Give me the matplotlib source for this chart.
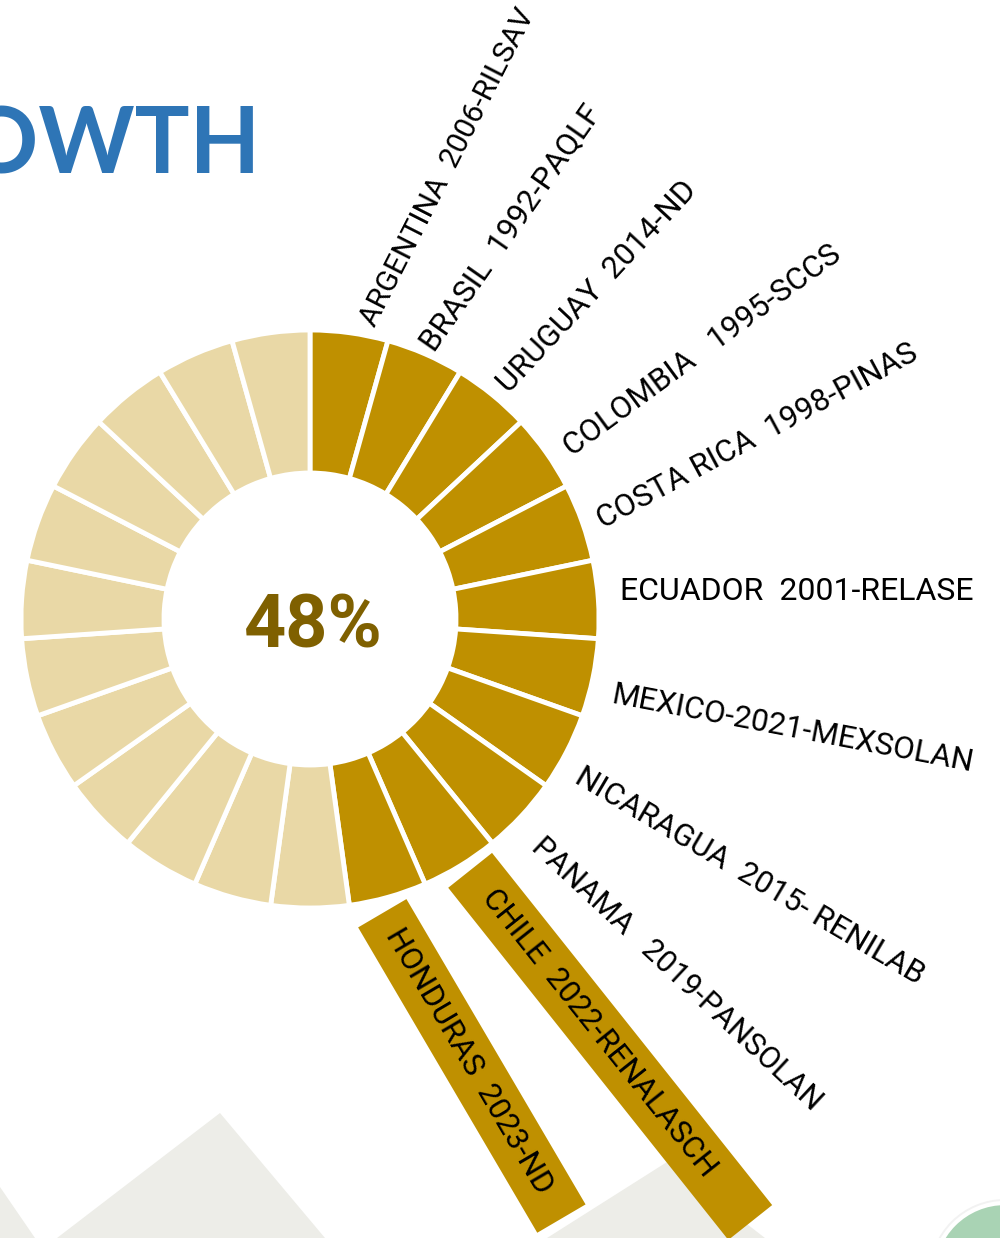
import numpy as np
import matplotlib.pyplot as plt
from matplotlib.patches import Polygon, Circle

# datos
n_segments = 23
n_done = 11
labels = [
    "ARGENTINA  2006-RILSAV",
    "BRASIL  1992-PAQLF",
    "URUGUAY  2014-ND",
    "COLOMBIA   1995-SCCS",
    "COSTA RICA  1998-PINAS",
    "ECUADOR  2001-RELASE",
    "MEXICO-2021-MEXSOLAN",
    "NICARAGUA  2015- RENILAB",
    "PANAMA   2019-PANSOLAN",
    "CHILE  2022-RENALASCH",
    "HONDURAS  2023-ND",
]
boxed = [False] * 9 + [True, True]

# estilo / posiciones de etiquetas (grados desde las 12 en sentido horario)
lab_ang = [11.2, 23.3, 39.8, 56.7, 71.3, 85.0, 104.1, 120.2, 134.8, 147.5, 166.2]
lab_r = [300, 295, 301, 307, 305, 311, 311, 309, 318, 298, 303]
lab_rot = [63, 55, 47, 36.3, 28.3, 0, -10.8, -30.5, -43, -51.5, -59.6]
lab_size = [21.5, 22.5, 22.5, 22.5, 22.5, 23, 22.5, 22.5, 22, 22.5, 22.5]
box_len = [0] * 9 + [450, 354]
box_txt_off = [0] * 9 + [28, 20]

W, H = 1000, 1238
cx, cy = 310, H - 619
R_out, R_in = 289, 146
dark = '#BF9000'
light = '#E9D8A6'

fig = plt.figure(figsize=(10, 12.38), dpi=100)
ax = fig.add_axes([0, 0, 1, 1])

# fondo: triangulos grises y globo
gray = '#EDEDE8'
for pts in [[(57, 0), (220, H - 1113), (325, 0)],
            [(0, H - 1187), (35, 0), (0, 0)],
            [(547, 0), (667, H - 1162), (765, 0)]]:
    ax.add_patch(Polygon(pts, closed=True, fc=gray, ec='none', zorder=0))
ax.add_patch(Circle((1005, H - 1275), 76, fc='#f2f2f2', ec='none', zorder=0))
ax.add_patch(Circle((1005, H - 1275), 72, fc='#a9d3b4', ec='white', lw=3, zorder=1))

# anillo
vals = [1] * n_segments
cols = [dark] * n_done + [light] * (n_segments - n_done)
ax.pie(vals, colors=cols, startangle=90, counterclock=False, center=(cx, cy),
       radius=R_out, wedgeprops=dict(width=R_out - R_in, edgecolor='white', linewidth=3.5))

pct = round(100 * n_done / n_segments)
ax.text(cx + 3, cy - 8, f"{pct}%", ha='center', va='center', fontsize=53, fontweight='bold',
        color='#7F6000', family='Roboto')

ax.text(261, H - 173, "GROWTH", ha='right', va='baseline', fontsize=66,
        fontweight='bold', color='#2E75B6', family='Lato')

for i, lab in enumerate(labels):
    a = np.radians(lab_ang[i])
    x0 = cx + lab_r[i] * np.sin(a)
    y0 = cy + lab_r[i] * np.cos(a)
    rot = np.radians(lab_rot[i])
    d = np.array([np.cos(rot), np.sin(rot)])
    if boxed[i]:
        n = np.array([-np.sin(rot), np.cos(rot)])
        s = np.array([x0, y0])
        hw = 28
        L = box_len[i]
        pts = [s + n * hw, s - n * hw, s - n * hw + d * L, s + n * hw + d * L]
        ax.add_patch(Polygon(pts, closed=True, fc=dark, ec='none', zorder=3))
        x0, y0 = s + d * box_txt_off[i]
    ax.text(x0, y0, lab, rotation=lab_rot[i], rotation_mode='anchor',
            ha='left', va='center', fontsize=lab_size[i], color='black',
            family='Roboto', zorder=4)

ax.set_xlim(0, W)
ax.set_ylim(0, H)
ax.set_aspect('equal')
ax.axis('off')

fig.savefig('out.png', dpi=100)
